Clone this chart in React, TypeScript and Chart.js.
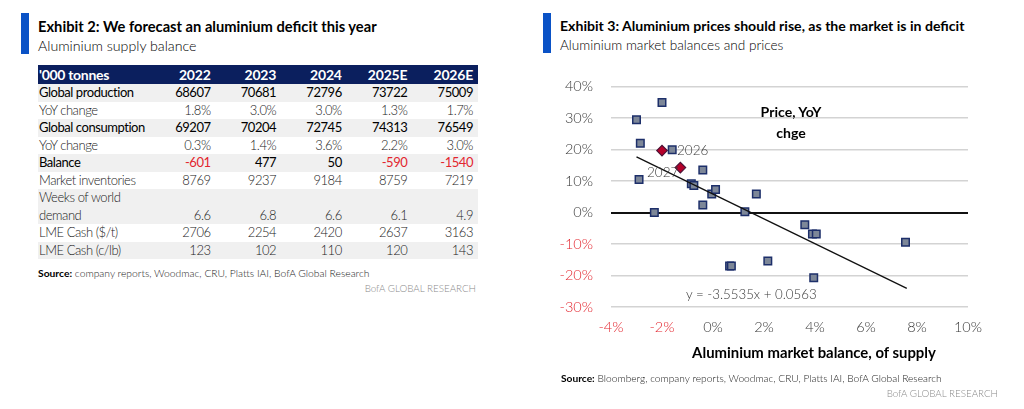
import React, { useEffect, useRef } from "react";
import { Chart, registerables } from "chart.js";

Chart.register(...registerables);

// ---------- Exhibit 2 table data ----------
const years = ["2022", "2023", "2024", "2025E", "2026E"];
const globalProduction = [68607, 70681, 72796, 73722, 75009];
const productionYoY = ["1.8%", "3.0%", "3.0%", "1.3%", "1.7%"];
const globalConsumption = [69207, 70204, 72745, 74313, 76549];
const consumptionYoY = ["0.3%", "1.4%", "3.6%", "2.2%", "3.0%"];
const balance = [-601, 477, 50, -590, -1540];
const marketInventories = [8769, 9237, 9184, 8759, 7219];
const weeksOfDemand = ["6.6", "6.8", "6.6", "6.1", "4.9"];
const lmeCashTonne = [2706, 2254, 2420, 2637, 3163];
const lmeCashLb = [123, 102, 110, 120, 143];

// ---------- Exhibit 3 scatter data (% units) ----------
const histBalance = [-2.0, -3.0, -2.85, -1.6, -2.9, -2.3, -0.4, -0.85, -0.75, -0.05, 0.1, -0.4, 1.25, 1.7, 3.6, 3.9, 4.05, 7.55, 0.65, 0.72, 2.15, 3.95];
const histPrice = [35, 29.5, 22, 20, 10.5, 0, 13.5, 9.2, 8.6, 5.9, 7.3, 2.4, 0.3, 5.9, -3.9, -6.8, -6.8, -9.4, -17, -17, -15.4, -20.7];
const forecastLabels = ["2026", "2027"];
const forecastBalance = [-2.0, -1.28];
const forecastPrice = [19.7, 14.3];
const trendBalance = [-3.0, 7.6];
const trendPrice = [17.7, -24.1];
const xTicksMin = -4;
const xTicksMax = 10;
const yTicksMin = -30;
const yTicksMax = 40;

const FONT = "Lato, 'Noto Sans', sans-serif";
const RED = "#e3262f";
const GREY_TXT = "#3a3a3a";
const NAVY = "#0b1f5e";
const BLUE_BAR = "#0a52c6";

type TxtProps = {
  x: number;
  y: number;
  anchor?: "start" | "middle" | "end";
  size?: number;
  weight?: number;
  color?: string;
  spacing?: number;
  children: React.ReactNode;
};

function Txt({ x, y, anchor = "start", size = 14, weight = 400, color = "#000", spacing = 0, children }: TxtProps) {
  const style: React.CSSProperties = {
    position: "absolute",
    top: y - 10,
    height: 20,
    lineHeight: "20px",
    fontSize: size,
    fontWeight: weight,
    color,
    letterSpacing: spacing,
    whiteSpace: "nowrap",
    fontFamily: FONT,
  };
  if (anchor === "start") style.left = x;
  else if (anchor === "end") style.right = 1024 - x;
  else {
    style.left = x;
    style.transform = "translateX(-50%)";
  }
  return <div style={style}>{children}</div>;
}

type Row = { label: string; values: (string | number)[]; strong: boolean; shade: boolean; tall?: boolean; redNeg?: boolean };

const rows: Row[] = [
  { label: "Global production", values: globalProduction, strong: true, shade: true },
  { label: "YoY change", values: productionYoY, strong: false, shade: false },
  { label: "Global consumption", values: globalConsumption, strong: true, shade: true },
  { label: "YoY change", values: consumptionYoY, strong: false, shade: false },
  { label: "Balance", values: balance, strong: true, shade: true, redNeg: true },
  { label: "Market inventories", values: marketInventories, strong: false, shade: false },
  { label: "Weeks of world demand", values: weeksOfDemand, strong: false, shade: true, tall: true },
  { label: "LME Cash ($/t)", values: lmeCashTonne, strong: false, shade: false },
  { label: "LME Cash (c/lb)", values: lmeCashLb, strong: false, shade: true },
];

function SupplyTable() {
  const labelW = 112;
  const colW = 65.6;
  const cellFont = 13;
  const cellSpacing = -0.45;
  return (
    <table
      style={{
        position: "absolute",
        left: 38,
        top: 65,
        width: 440,
        borderCollapse: "collapse",
        tableLayout: "fixed",
        fontFamily: FONT,
        fontSize: cellFont,
      }}
    >
      <colgroup>
        <col style={{ width: labelW }} />
        {years.map((y) => (
          <col key={y} style={{ width: colW }} />
        ))}
      </colgroup>
      <thead>
        <tr style={{ background: NAVY, color: "#fff", height: 19 }}>
          <th style={{ textAlign: "left", padding: "0 0 0 1px", fontWeight: 700, fontSize: 14, letterSpacing: -0.3, lineHeight: "19px" }}>'000 tonnes</th>
          {years.map((y) => (
            <th key={y} style={{ textAlign: "right", padding: "0 5px 0 0", fontWeight: 700, fontSize: 14, letterSpacing: -0.2, lineHeight: "19px" }}>
              {y}
            </th>
          ))}
        </tr>
      </thead>
      <tbody>
        {rows.map((r, i) => (
          <tr key={i} style={{ background: r.shade ? "#f0f0f0" : "#fff", height: r.tall ? 35 : 17.5 }}>
            <td
              style={{
                padding: "0 0 0 1px",
                lineHeight: "17.5px",
                color: r.strong ? "#000" : "#222",
                fontWeight: r.strong ? 400 : 300,
                fontSize: cellFont,
                letterSpacing: cellSpacing,
                verticalAlign: "bottom",
                whiteSpace: r.tall ? "normal" : "nowrap",
              }}
            >
              {r.tall ? (
                <>
                  Weeks of world
                  <br />
                  demand
                </>
              ) : (
                r.label
              )}
            </td>
            {r.values.map((v, j) => {
              const neg = r.redNeg && typeof v === "number" && v < 0;
              return (
                <td
                  key={j}
                  style={{
                    textAlign: "right",
                    padding: "0 5px 0 0",
                    lineHeight: "17.5px",
                    fontSize: cellFont,
                    letterSpacing: cellSpacing,
                    verticalAlign: "bottom",
                    color: neg ? RED : r.strong ? "#000" : "#222",
                    fontWeight: r.strong ? 400 : 300,
                  }}
                >
                  {v}
                </td>
              );
            })}
          </tr>
        ))}
      </tbody>
    </table>
  );
}

const pointLabelPlugin = {
  id: "pointLabels",
  afterDatasetsDraw(chart: any) {
    const meta = chart.getDatasetMeta(1);
    const ctx = chart.ctx;
    ctx.save();
    ctx.font = `300 13.5px ${FONT}`;
    ctx.fillStyle = GREY_TXT;
    ctx.textBaseline = "middle";
    meta.data.forEach((pt: any, i: number) => {
      if (i === 0) {
        ctx.textAlign = "left";
        ctx.fillText(forecastLabels[i], pt.x + 15, pt.y + 0.5);
      } else {
        ctx.textAlign = "right";
        ctx.fillText(forecastLabels[i], pt.x - 2, pt.y + 5);
      }
    });
    ctx.restore();
  },
};

function ScatterChart() {
  const ref = useRef<HTMLCanvasElement | null>(null);
  useEffect(() => {
    if (!ref.current) return;
    const chart = new Chart(ref.current, {
      type: "scatter",
      data: {
        datasets: [
          {
            label: "History",
            data: histBalance.map((x, i) => ({ x, y: histPrice[i] })),
            pointStyle: "rect",
            pointRadius: 5.3,
            backgroundColor: "#7d8798",
            borderColor: "#1d2f6a",
            borderWidth: 1.5,
            order: 2,
          },
          {
            label: "Forecast",
            data: forecastBalance.map((x, i) => ({ x, y: forecastPrice[i] })),
            pointStyle: "rectRot",
            pointRadius: 5.3,
            backgroundColor: "#b5002a",
            borderColor: "#4a1438",
            borderWidth: 1.2,
            order: 1,
          },
          {
            type: "line",
            label: "Trend",
            data: trendBalance.map((x, i) => ({ x, y: trendPrice[i] })),
            borderColor: "#111",
            borderWidth: 1.3,
            pointRadius: 0,
            showLine: true,
            fill: false,
            order: 0,
          } as any,
        ],
      },
      options: {
        animation: false,
        responsive: true,
        maintainAspectRatio: false,
        layout: { padding: { top: 10, right: 32, left: 0, bottom: 0 } },
        plugins: { legend: { display: false }, tooltip: { enabled: false } },
        scales: {
          x: {
            type: "linear",
            min: xTicksMin,
            max: xTicksMax,
            grid: { display: false, drawTicks: false },
            border: { display: false },
            afterFit: (s: any) => {
              s.height = 63;
            },
            ticks: {
              stepSize: 2,
              padding: 12,
              font: { family: FONT, size: 14.5, weight: 300 as any },
              color: (c: any) => (c.tick && c.tick.value < 0 ? RED : GREY_TXT),
              callback: (v: any) => `${v}%`,
            },
          },
          y: {
            type: "linear",
            min: yTicksMin,
            max: yTicksMax,
            grid: {
              drawTicks: false,
              color: (c: any) => (c.tick && c.tick.value === 0 ? "#111" : "#d3d3d3"),
              lineWidth: (c: any) => (c.tick && c.tick.value === 0 ? 2 : 1.6),
            },
            border: { display: false },
            afterFit: (s: any) => {
              s.width = 51;
            },
            ticks: {
              stepSize: 10,
              padding: 18,
              font: { family: FONT, size: 14.5, weight: 300 as any },
              color: (c: any) => (c.tick && c.tick.value < 0 ? RED : GREY_TXT),
              callback: (v: any) => `${v}%`,
            },
          },
        },
      },
      plugins: [pointLabelPlugin],
    });
    return () => chart.destroy();
  }, []);
  return (
    <div style={{ position: "absolute", left: 560, top: 60, width: 440, height: 310 }}>
      <canvas ref={ref} />
    </div>
  );
}

export default function App() {
  return (
    <div style={{ position: "fixed", left: 0, top: 0, width: 1024, height: 409, background: "#fff", overflow: "hidden", fontFamily: FONT }}>
      {/* Left exhibit */}
      <div style={{ position: "absolute", left: 21, top: 13, width: 8, height: 41, background: BLUE_BAR }} />
      <Txt x={38} y={26} size={14.7} weight={700}>Exhibit 2: We forecast an aluminium deficit this year</Txt>
      <Txt x={38} y={46} size={14.2} weight={300}>Aluminium supply balance</Txt>
      <SupplyTable />
      <Txt x={38} y={273} size={10.3} weight={300} color="#222">
        <b style={{ fontWeight: 700, color: "#000" }}>Source:</b> company reports, Woodmac, CRU, Platts IAI, BofA Global Research
      </Txt>
      <Txt x={476} y={288} anchor="end" size={9.8} weight={300} color="#8a8a8a">BofA GLOBAL RESEARCH</Txt>

      {/* Right exhibit */}
      <div style={{ position: "absolute", left: 543, top: 13, width: 8, height: 40, background: BLUE_BAR }} />
      <Txt x={560} y={26} size={14.1} weight={700}>Exhibit 3: Aluminium prices should rise, as the market is in deficit</Txt>
      <Txt x={560} y={45} size={13.6} weight={300}>Aluminium market balances and prices</Txt>
      <ScatterChart />
      <Txt x={791} y={112} anchor="middle" size={14.1} weight={700}>Price, YoY</Txt>
      <Txt x={791} y={133} anchor="middle" size={14.1} weight={700}>chge</Txt>
      <Txt x={686} y={294} size={13.3} weight={300} color={GREY_TXT}>y = -3.5535x + 0.0563</Txt>
      <Txt x={814} y={352} anchor="middle" size={14.9} weight={700}>Aluminium market balance, of supply</Txt>
      <Txt x={561} y={378} size={10.2} weight={300} color="#222">
        <b style={{ fontWeight: 700, color: "#000" }}>Source:</b> Bloomberg, company reports, Woodmac, CRU, Platts IAI, BofA Global Research
      </Txt>
      <Txt x={998} y={393} anchor="end" size={9.8} weight={300} color="#8a8a8a">BofA GLOBAL RESEARCH</Txt>
    </div>
  );
}
